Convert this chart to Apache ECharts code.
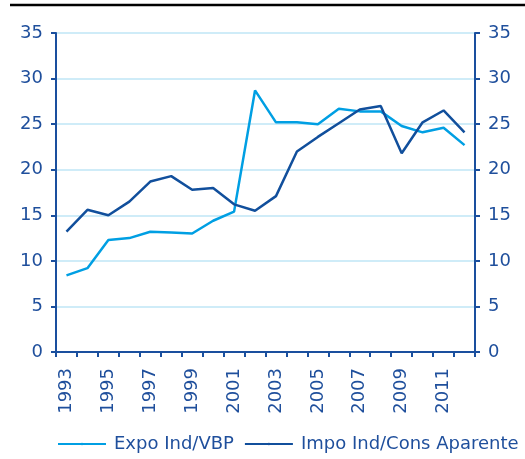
<!DOCTYPE html>
<html>
<head>
<meta charset="utf-8">
<script src="https://cdn.jsdelivr.net/npm/echarts@6/dist/echarts.min.js"></script>
<style>
  html, body { margin: 0; padding: 0; background: #fff; }
  #chart { width: 525px; height: 459px; }
</style>
</head>
<body>
<div id="chart"></div>
<script>
// years on the x axis
const years = ["1993", "1994", "1995", "1996", "1997", "1998", "1999", "2000", "2001", "2002",
  "2003", "2004", "2005", "2006", "2007", "2008", "2009", "2010", "2011", "2012"];
// Expo Ind/VBP (%)
const expoInd = [8.4, 9.2, 12.3, 12.5, 13.2, 13.1, 13.0, 14.4, 15.4, 28.7,
  25.2, 25.2, 25.0, 26.7, 26.4, 26.4, 24.8, 24.1, 24.6, 22.7];
// Impo Ind/Cons Aparente (%)
const impoInd = [13.2, 15.6, 15.0, 16.5, 18.7, 19.3, 17.8, 18.0, 16.2, 15.5,
  17.1, 22.0, 23.6, 25.1, 26.6, 27.0, 21.8, 25.2, 26.5, 24.1];

const axisBlue = "#1a4f9e";
const textBlue = "#1f4f9c";
const font = "DejaVu Sans";

let chart = echarts.init(document.getElementById("chart"));

const yAxisCommon = {
  type: "value",
  min: 0,
  max: 35,
  interval: 5,
  axisLine: { show: true, lineStyle: { color: axisBlue, width: 2 } },
  axisTick: { show: true, length: 5, lineStyle: { color: axisBlue, width: 2 } },
  axisLabel: { color: textBlue, fontSize: 18, fontFamily: font, margin: 13 }
};

chart.setOption({
  animation: false,
  grid: { left: 56, right: 50, top: 33, bottom: 107 },
  graphic: [{
    type: "line",
    shape: { x1: 10, y1: 5, x2: 525, y2: 5 },
    style: { stroke: "#000", lineWidth: 2.5 }
  }],
  legend: {
    left: 57,
    bottom: 6,
    padding: 0,
    itemWidth: 48,
    itemHeight: 3,
    itemGap: 10,
    textStyle: { color: textBlue, fontSize: 18, fontFamily: font, padding: [0, 0, 0, 3] },
    data: ["Expo Ind/VBP", "Impo Ind/Cons Aparente"]
  },
  xAxis: {
    type: "category",
    data: years,
    boundaryGap: true,
    axisLine: { show: true, lineStyle: { color: axisBlue, width: 2 } },
    axisTick: { show: true, length: 5, interval: 0, lineStyle: { color: axisBlue, width: 2 } },
    axisLabel: { rotate: 90, interval: 1, color: textBlue, fontSize: 18, fontFamily: font, margin: 16 },
    splitLine: { show: false }
  },
  yAxis: [
    Object.assign({}, yAxisCommon, {
      position: "left",
      splitLine: { show: true, lineStyle: { color: "#bfe6f6", width: 1.5 } }
    }),
    Object.assign({}, yAxisCommon, {
      position: "right",
      splitLine: { show: false }
    })
  ],
  series: [
    {
      name: "Expo Ind/VBP",
      type: "line",
      data: expoInd,
      symbol: "none",
      lineStyle: { color: "#009fe3", width: 2.5 },
      itemStyle: { color: "#009fe3" }
    },
    {
      name: "Impo Ind/Cons Aparente",
      type: "line",
      data: impoInd,
      symbol: "none",
      lineStyle: { color: "#114f9c", width: 2.5 },
      itemStyle: { color: "#114f9c" }
    }
  ]
});
</script>
</body>
</html>
